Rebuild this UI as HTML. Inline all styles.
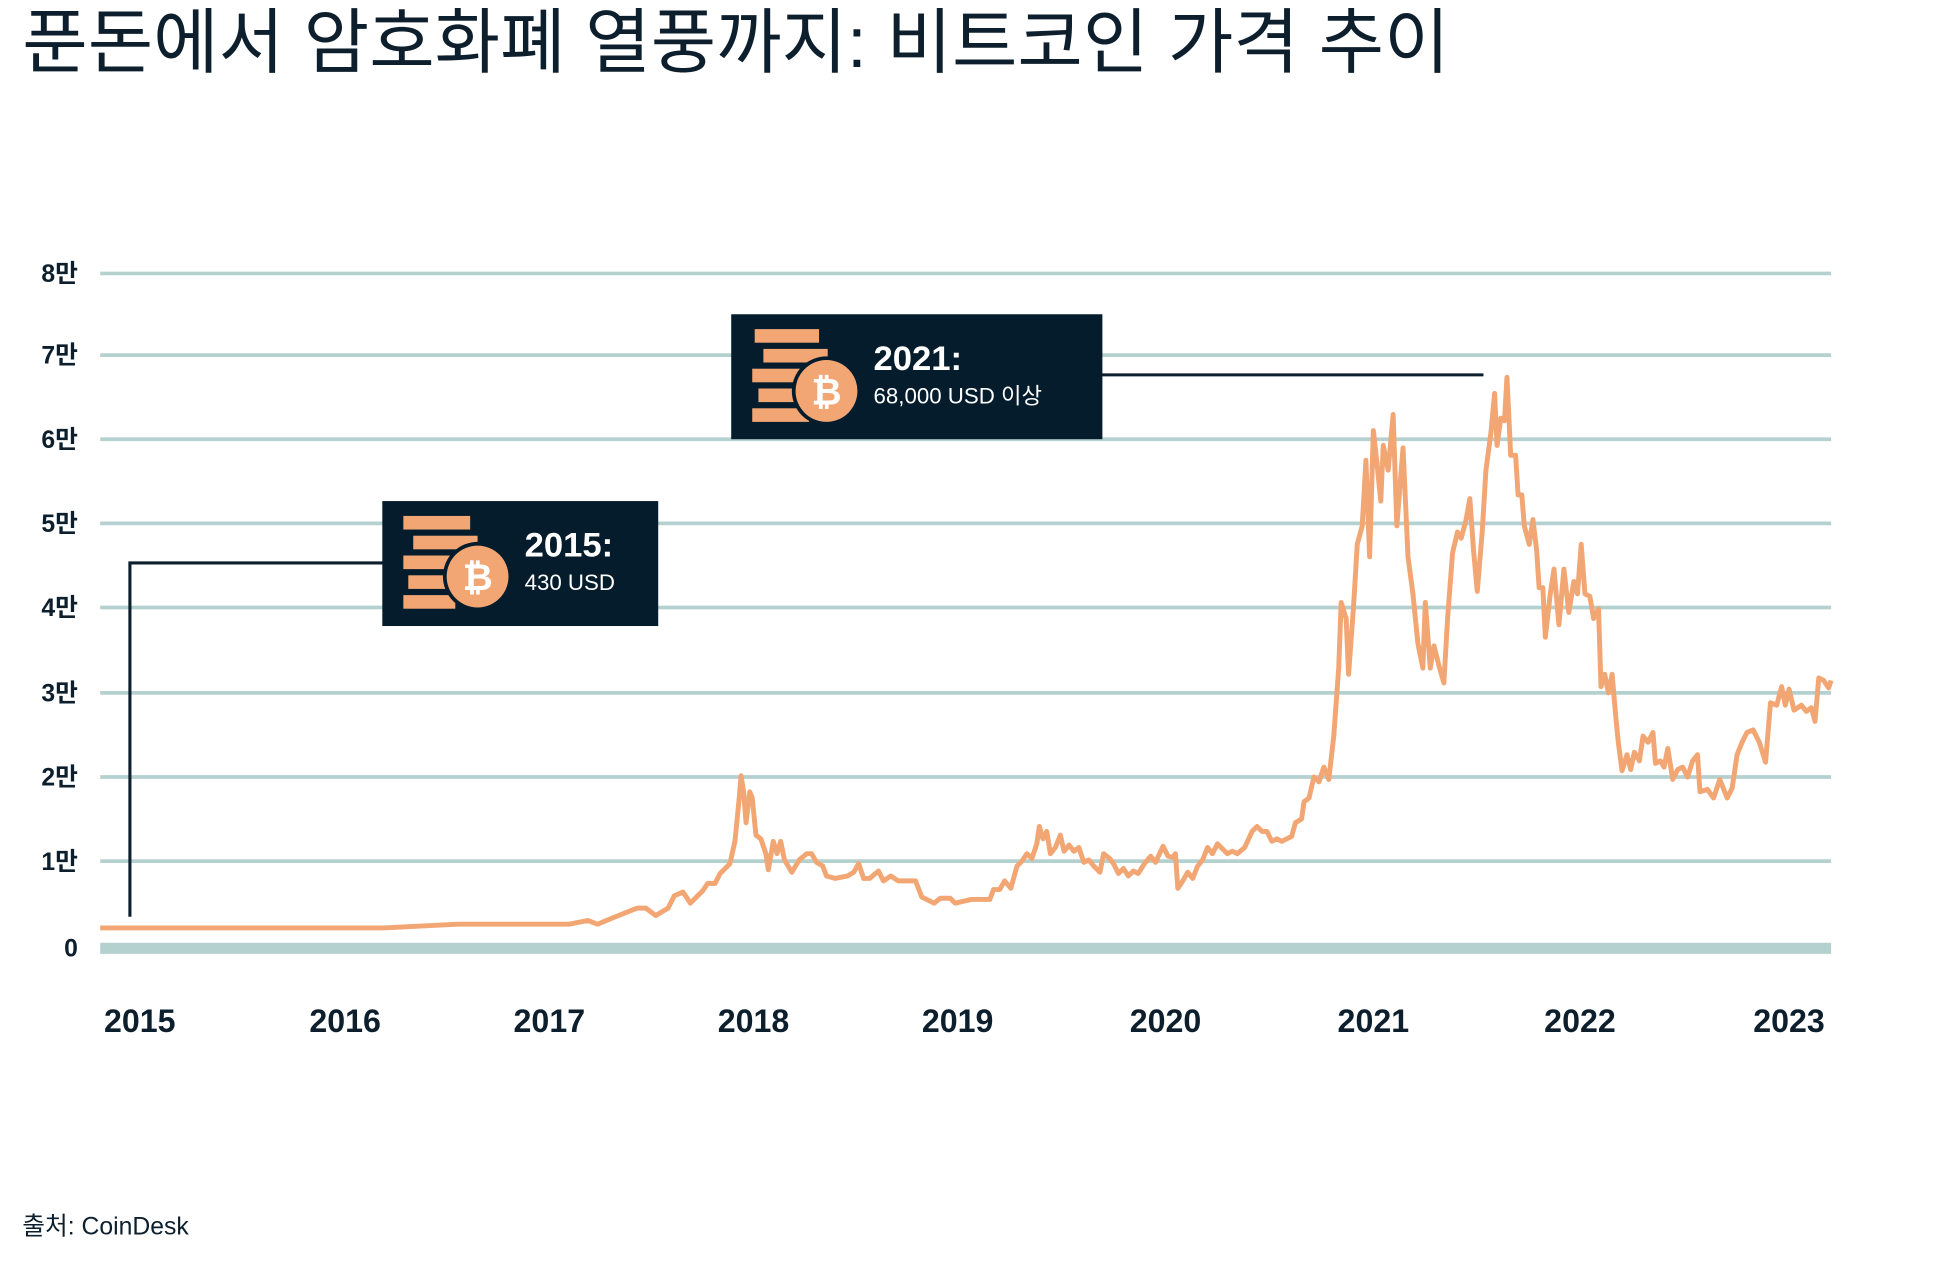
<!DOCTYPE html>
<html><head><meta charset="utf-8"><style>
html,body{margin:0;padding:0;background:#fff;}
svg{display:block;}
text{font-family:"Liberation Sans","Noto Sans CJK KR",sans-serif;}
</style></head><body>
<svg width="1940" height="1271" viewBox="0 0 1568 1027.3" preserveAspectRatio="none" xmlns="http://www.w3.org/2000/svg">
<text x="18" y="54" font-size="57.5" fill="#0d1f2d" font-family="Liberation Sans, Noto Sans CJK KR, sans-serif">푼돈에서 암호화폐 열풍까지: 비트코인 가격 추이</text>
<g stroke="#b5d1cf" stroke-width="3">
<line x1="81" x2="1480" y1="221" y2="221"/><line x1="81" x2="1480" y1="287" y2="287"/>
<line x1="81" x2="1480" y1="355" y2="355"/><line x1="81" x2="1480" y1="423" y2="423"/>
<line x1="81" x2="1480" y1="491" y2="491"/><line x1="81" x2="1480" y1="560" y2="560"/>
<line x1="81" x2="1480" y1="628" y2="628"/><line x1="81" x2="1480" y1="696" y2="696"/>
</g>
<rect x="81" y="762" width="1399" height="9" fill="#b5d1cf"/>
<g font-size="20" font-weight="bold" fill="#0d1f2d" text-anchor="end">
<text x="63" y="228">8만</text><text x="63" y="294">7만</text><text x="63" y="362">6만</text>
<text x="63" y="430">5만</text><text x="63" y="498">4만</text><text x="63" y="567">3만</text>
<text x="63" y="635">2만</text><text x="63" y="703">1만</text><text x="63" y="773">0</text>
</g>
<g font-size="26" font-weight="bold" fill="#0d1f2d" text-anchor="middle">
<text x="113" y="834">2015</text><text x="279" y="834">2016</text><text x="444" y="834">2017</text>
<text x="609" y="834">2018</text><text x="774" y="834">2019</text><text x="942" y="834">2020</text>
<text x="1110" y="834">2021</text><text x="1277" y="834">2022</text><text x="1446" y="834">2023</text>
</g>
<polyline fill="none" stroke="#f2a673" stroke-width="4" stroke-linejoin="round" points="81,750 310,750 370,747 460,747 475,744 483,747 495,742 515,734 522,734 530,740 540,734 545,724 552,721 558,730 568,720 572,714 578,714 582,706 590,698 594,680 597,650 599,627 601,640 603,665 606,640 608,645 611,675 615,678 619,690 621,703 625,680 628,690 631,680 634,695 640,705 646,695 652,690 656,690 660,697 665,700 668,708 675,710 685,708 690,705 694,698 698,710 703,710 710,704 714,712 720,708 726,712 740,712 745,725 755,730 760,726 768,726 772,730 785,727 800,727 803,719 808,719 812,712 817,718 822,700 826,696 830,690 834,694 838,682 840,668 843,678 846,672 849,690 853,685 857,675 860,688 864,683 868,688 872,685 876,697 880,695 884,700 889,705 892,690 897,694 900,698 904,706 908,702 912,708 916,704 920,706 925,698 930,692 934,697 940,684 944,692 948,693 950,690 952,718 956,712 960,705 964,710 968,700 972,695 976,685 980,690 984,682 988,686 992,690 996,688 1000,690 1006,685 1012,672 1016,668 1020,672 1024,672 1028,680 1032,678 1036,680 1040,678 1044,676 1047,665 1052,662 1054,648 1058,645 1062,628 1066,632 1070,620 1074,630 1078,595 1082,540 1084,487 1088,500 1090,545 1094,490 1097,440 1101,425 1104,372 1107,450 1110,348 1113,375 1116,405 1118,360 1122,380 1126,335 1129,425 1134,362 1138,450 1142,480 1146,520 1150,540 1152,487 1156,540 1159,522 1163,538 1167,552 1170,500 1174,447 1178,430 1181,435 1185,420 1188,403 1191,445 1194,478 1198,430 1201,380 1205,350 1208,318 1210,360 1213,338 1216,340 1218,305 1221,368 1225,368 1227,400 1230,400 1232,425 1236,440 1239,420 1242,445 1244,475 1247,475 1249,515 1253,480 1256,460 1260,505 1264,460 1268,495 1272,470 1275,480 1278,440 1281,480 1285,482 1288,500 1292,492 1294,555 1297,545 1300,560 1303,545 1306,580 1308,600 1311,623 1315,610 1318,622 1321,608 1325,615 1328,595 1332,600 1336,592 1338,617 1342,615 1345,620 1348,605 1352,630 1356,622 1360,620 1364,628 1368,615 1372,610 1374,640 1380,638 1385,645 1390,630 1396,645 1400,637 1404,610 1408,600 1412,592 1417,590 1422,600 1427,616 1431,568 1436,570 1440,555 1443,570 1446,557 1450,574 1456,570 1460,575 1464,572 1467,583 1470,548 1474,550 1478,556 1480,550"/>
<polyline fill="none" stroke="#0d1f2d" stroke-width="2.5" points="105,741 105,455 310,455"/>
<rect x="309" y="405" width="223" height="101" fill="#041c2c"/>
<g fill="#f2a673">
<rect x="326" y="417" width="54" height="11"/><rect x="334" y="433" width="52" height="11"/>
<rect x="326" y="449" width="48" height="11"/><rect x="330" y="465" width="44" height="11"/>
<rect x="326" y="481" width="42" height="11"/>
</g>
<circle cx="386" cy="466" r="28" fill="#041c2c"/><circle cx="386" cy="466" r="25" fill="#f2a673"/>
<text x="386" y="477" font-size="30" font-weight="bold" fill="#fff" text-anchor="middle" font-family="DejaVu Sans, sans-serif">₿</text>
<text x="424" y="450" font-size="28" font-weight="bold" fill="#fff">2015:</text>
<text x="424" y="477" font-size="18" fill="#fff">430 USD</text>
<line x1="890" y1="303" x2="1199" y2="303" stroke="#0d1f2d" stroke-width="2.5"/>
<rect x="591" y="254" width="300" height="101" fill="#041c2c"/>
<g fill="#f2a673">
<rect x="610" y="266" width="52" height="11"/><rect x="617" y="282" width="52" height="11"/>
<rect x="608" y="298" width="50" height="11"/><rect x="613" y="314" width="42" height="11"/>
<rect x="608" y="330" width="46" height="11"/>
</g>
<circle cx="668" cy="316" r="28" fill="#041c2c"/><circle cx="668" cy="316" r="25" fill="#f2a673"/>
<text x="668" y="327" font-size="30" font-weight="bold" fill="#fff" text-anchor="middle" font-family="DejaVu Sans, sans-serif">₿</text>
<text x="706" y="299" font-size="28" font-weight="bold" fill="#fff">2021:</text>
<text x="706" y="326" font-size="18" fill="#fff">68,000 USD 이상</text>
<text x="18" y="998" font-size="20" fill="#0d1f2d">출처: CoinDesk</text>
</svg>
</body></html>
